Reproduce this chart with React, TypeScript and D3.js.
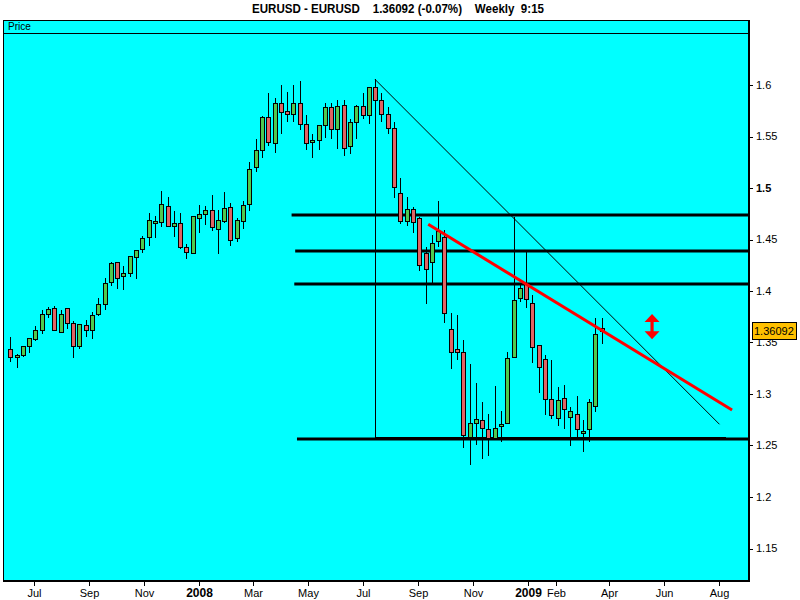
import React from 'react';
import * as d3 from 'd3';

// ---- data ----
const firstWeek = '2007-06-05';
const opens = [1.3434,1.3356,1.3375,1.3463,1.3537,1.3624,1.3774,1.3832,1.3605,1.3832,1.3686,1.3469,1.3667,1.3624,1.3774,1.3871,1.4090,1.4278,1.4148,1.4172,1.4327,1.4410,1.4521,1.4663,1.4673,1.4822,1.4634,1.4657,1.4424,1.4372,1.4711,1.4750,1.4783,1.4605,1.4679,1.4812,1.4517,1.4682,1.4842,1.5201,1.5366,1.5686,1.5434,1.5822,1.5744,1.5715,1.5822,1.5618,1.5443,1.5463,1.5609,1.5783,1.5570,1.5803,1.5405,1.5638,1.5793,1.5706,1.5977,1.5851,1.5715,1.5579,1.4948,1.4682,1.4793,1.4706,1.4372,1.4284,1.4488,1.4521,1.3628,1.3434,1.3405,1.2585,1.2715,1.2744,1.2657,1.2576,1.2692,1.2715,1.3362,1.3935,1.4075,1.3880,1.3473,1.3337,1.2948,1.2764,1.2958,1.2774,1.2803,1.2618,1.2657,1.2880,1.3638];
const highs = [1.3550,1.3385,1.3466,1.3541,1.3660,1.3815,1.3844,1.3854,1.3815,1.3835,1.3709,1.3680,1.3718,1.3793,1.3929,1.4123,1.4281,1.4281,1.4243,1.4340,1.4398,1.4534,1.4760,1.4728,1.4971,1.4910,1.4777,1.4754,1.4456,1.4728,1.4835,1.4825,1.4932,1.4783,1.4958,1.4851,1.4711,1.4871,1.5249,1.5473,1.5696,1.5919,1.5871,1.5997,1.5929,1.5997,1.6039,1.5706,1.5521,1.5609,1.5822,1.5822,1.5851,1.5851,1.5667,1.5803,1.5919,1.5977,1.6055,1.5919,1.5783,1.5638,1.5094,1.4910,1.4812,1.4718,1.4430,1.4541,1.4874,1.4592,1.3783,1.3767,1.3521,1.3291,1.3107,1.2922,1.2806,1.3077,1.2835,1.3405,1.4721,1.4075,1.4381,1.3961,1.3476,1.3375,1.3327,1.3065,1.3084,1.2871,1.2977,1.2744,1.2948,1.3735,1.3735];
const lows = [1.3313,1.3255,1.3362,1.3401,1.3517,1.3585,1.3741,1.3611,1.3595,1.3631,1.3352,1.3440,1.3556,1.3537,1.3757,1.3815,1.4048,1.4022,1.4010,1.4139,1.4116,1.4372,1.4437,1.4517,1.4624,1.4624,1.4527,1.4408,1.4308,1.4366,1.4566,1.4638,1.4585,1.4362,1.4657,1.4440,1.4478,1.4602,1.4779,1.5152,1.5288,1.5405,1.5343,1.5521,1.5638,1.5638,1.5560,1.5366,1.5288,1.5366,1.5482,1.5473,1.5376,1.5308,1.5327,1.5473,1.5667,1.5618,1.5796,1.5638,1.5521,1.4906,1.4650,1.4631,1.4566,1.4197,1.3877,1.4080,1.4430,1.3692,1.3245,1.3330,1.2478,1.2313,1.2507,1.2372,1.2401,1.2576,1.2537,1.2706,1.3349,1.3896,1.3832,1.3304,1.3012,1.2793,1.2754,1.2692,1.2657,1.2498,1.2579,1.2440,1.2537,1.2822,1.3482];
const closes = [1.3362,1.3375,1.3463,1.3541,1.3618,1.3774,1.3822,1.3621,1.3774,1.3686,1.3469,1.3677,1.3624,1.3764,1.3871,1.4080,1.4269,1.4129,1.4172,1.4340,1.4395,1.4511,1.4686,1.4677,1.4842,1.4634,1.4657,1.4430,1.4381,1.4728,1.4744,1.4783,1.4624,1.4686,1.4803,1.4498,1.4686,1.4832,1.5181,1.5366,1.5686,1.5443,1.5822,1.5735,1.5715,1.5822,1.5618,1.5434,1.5463,1.5609,1.5783,1.5570,1.5793,1.5385,1.5638,1.5793,1.5706,1.5977,1.5851,1.5715,1.5579,1.5012,1.4682,1.4793,1.4673,1.4255,1.4216,1.4463,1.4585,1.3789,1.3405,1.3405,1.2605,1.2715,1.2754,1.2673,1.2576,1.2667,1.2706,1.3346,1.3912,1.4026,1.3919,1.3453,1.3259,1.2954,1.2793,1.2942,1.2851,1.2832,1.2657,1.2638,1.2919,1.3579,1.36092];

const yTickValues = [1.15, 1.2, 1.25, 1.3, 1.35, 1.4, 1.45, 1.5, 1.55, 1.6];
const yTickLabels = ['1.15', '1.2', '1.25', '1.3', '1.35', '1.4', '1.45', '1.5', '1.55', '1.6'];
const boldYLabel = '1.5';
const xTickDates = ['2007-07-01','2007-09-01','2007-11-01','2008-01-01','2008-03-01','2008-05-01','2008-07-01','2008-09-01','2008-11-01','2009-01-01','2009-02-01','2009-04-01','2009-06-01','2009-08-01'];
const xTickLabels = ['Jul','Sep','Nov','2008','Mar','May','Jul','Sep','Nov','2009','Feb','Apr','Jun','Aug'];
const boldXLabels = ['2008', '2009'];

const levelPrices = [1.4738, 1.4388, 1.4068, 1.2563];
const levelStarts = ['2008-04-13', '2008-04-17', '2008-04-16', '2008-04-19'];

const triangleDates = ['2008-07-15', '2009-08-02', '2009-08-09'];
const trianglePrices = [1.6053, 1.2706, 1.2578];
const redLineDates = ['2008-09-12', '2009-08-16'];
const redLinePrices = [1.4648, 1.2845];
const arrowDate = '2009-05-19';
const arrowPrices = [1.3777, 1.3531];
const lastPrice = 1.36092;
const titleText = 'EURUSD - EURUSD    1.36092 (-0.07%)    Weekly  9:15';

// ---- layout ----
const W = 800, H = 600;
const left = 3, right = 749, headerTop = 20, plotTop = 33, bottom = 581;
const GREEN = '#4fc94f', RED = '#de6464', CYAN = '#00ffff';
const FONT = '"Liberation Sans", Arial, sans-serif';

const parse = d3.timeParse('%Y-%m-%d');

export default function App() {
  const x = d3.scaleTime()
    .domain([parse('2008-01-01') as Date, parse('2009-01-01') as Date])
    .range([199, 528]);
  const y = d3.scaleLinear().domain([1.15, 1.6]).range([548.5, 85]);
  const start = parse(firstWeek) as Date;

  const candles = opens.map((o, i) => ({
    date: d3.timeDay.offset(start, 7 * i),
    o, h: highs[i], l: lows[i], c: closes[i],
  }));

  const tTop = { x: x(parse(triangleDates[0]) as Date), y: y(trianglePrices[0]) };
  const tDiag = { x: x(parse(triangleDates[1]) as Date), y: y(trianglePrices[1]) };
  const tBase = { x: x(parse(triangleDates[2]) as Date), y: y(trianglePrices[2]) };
  const line = d3.line<[number, number]>();

  const ax = x(parse(arrowDate) as Date);
  const ay1 = y(arrowPrices[0]);
  const ay2 = y(arrowPrices[1]);
  const arrowPath = `M${ax},${ay1} L${ax + 7.5},${ay1 + 8} L${ax + 1.6},${ay1 + 8} L${ax + 1.6},${ay2 - 8} L${ax + 7.5},${ay2 - 8} L${ax},${ay2} L${ax - 7.5},${ay2 - 8} L${ax - 1.6},${ay2 - 8} L${ax - 1.6},${ay1 + 8} L${ax - 7.5},${ay1 + 8} Z`;

  const lastY = y(lastPrice);

  return (
    <svg width={W} height={H} style={{ position: 'absolute', left: 0, top: 0, display: 'block', background: '#fff' }}>
      <text x={398} y={13} textAnchor="middle" fontFamily={FONT} fontWeight="bold" fontSize={12}
        textLength={292} lengthAdjust="spacingAndGlyphs" style={{ whiteSpace: 'pre' }}>{titleText}</text>

      <rect x={left} y={headerTop} width={right - left} height={bottom - headerTop} fill={CYAN} />
      <text x={8} y={30} fontFamily={FONT} fontSize={10}>Price</text>
      <line x1={left} x2={right} y1={plotTop + 0.5} y2={plotTop + 0.5} stroke="#000" />

      {/* support / resistance levels */}
      {levelPrices.map((p, i) => (
        <line key={'lv' + i} x1={x(parse(levelStarts[i]) as Date)} x2={right} y1={y(p)} y2={y(p)}
          stroke="#000" strokeWidth={3} />
      ))}

      {/* thin triangle */}
      <path d={line([[tTop.x, tTop.y], [tTop.x, tBase.y], [tBase.x, tBase.y]]) as string}
        fill="none" stroke="#000" strokeWidth={1} shapeRendering="crispEdges" />
      <path d={line([[tTop.x, tTop.y], [tDiag.x, tDiag.y]]) as string} fill="none" stroke="#000" strokeWidth={1} />

      {/* candles */}
      {candles.map((d, i) => {
        const cx = Math.round(x(d.date));
        const top = Math.round(y(Math.max(d.o, d.c)));
        const bot = Math.round(y(Math.min(d.o, d.c)));
        return (
          <g key={'c' + i} shapeRendering="crispEdges">
            <line x1={cx + 0.5} x2={cx + 0.5} y1={y(d.h)} y2={y(d.l)} stroke="#000" />
            <rect x={cx - 1.5} y={top + 0.5} width={4} height={Math.max(1, bot - top)}
              fill={d.c >= d.o ? GREEN : RED} stroke="#000" />
          </g>
        );
      })}

      {/* red trend line */}
      <line x1={x(parse(redLineDates[0]) as Date)} y1={y(redLinePrices[0])}
        x2={x(parse(redLineDates[1]) as Date)} y2={y(redLinePrices[1])}
        stroke="#ff0000" strokeWidth={3} />

      {/* arrow */}
      <path d={arrowPath} fill="#ff0000" />

      {/* frame */}
      <line x1={left + 0.5} x2={left + 0.5} y1={headerTop} y2={bottom} stroke="#000" />
      <line x1={left} x2={right} y1={headerTop + 0.5} y2={headerTop + 0.5} stroke="#000" />
      <line x1={right} x2={right} y1={headerTop} y2={bottom + 1} stroke="#000" strokeWidth={2} />
      <line x1={left} x2={right + 1} y1={bottom} y2={bottom} stroke="#000" strokeWidth={2} />

      {/* y axis */}
      {yTickValues.map((v, i) => (
        <g key={'yt' + i}>
          <line x1={right} x2={right + 4} y1={Math.round(y(v)) + 0.5} y2={Math.round(y(v)) + 0.5} stroke="#000" />
          <text x={756} y={y(v)} dy="0.36em" fontFamily={FONT} fontSize={11}
            fontWeight={yTickLabels[i] === boldYLabel ? 'bold' : 'normal'}>{yTickLabels[i]}</text>
        </g>
      ))}

      {/* x axis */}
      {xTickDates.map((ds, i) => {
        const xx = Math.round(x(parse(ds) as Date)) + 0.5;
        const bold = boldXLabels.includes(xTickLabels[i]);
        return (
          <g key={'xt' + i}>
            <line x1={xx} x2={xx} y1={bottom} y2={bottom + 5} stroke="#000" />
            <text x={xx} y={597} textAnchor="middle" fontFamily={FONT} fontSize={bold ? 12 : 11}
              fontWeight={bold ? 'bold' : 'normal'}>{xTickLabels[i]}</text>
          </g>
        );
      })}

      {/* last price box */}
      <rect x={752.5} y={Math.round(lastY) - 8.5} width={44} height={17} fill="#ffc000" stroke="#000" />
      <text x={754} y={lastY} dy="0.36em" fontFamily={FONT} fontSize={11}>{lastPrice.toFixed(5)}</text>
    </svg>
  );
}
